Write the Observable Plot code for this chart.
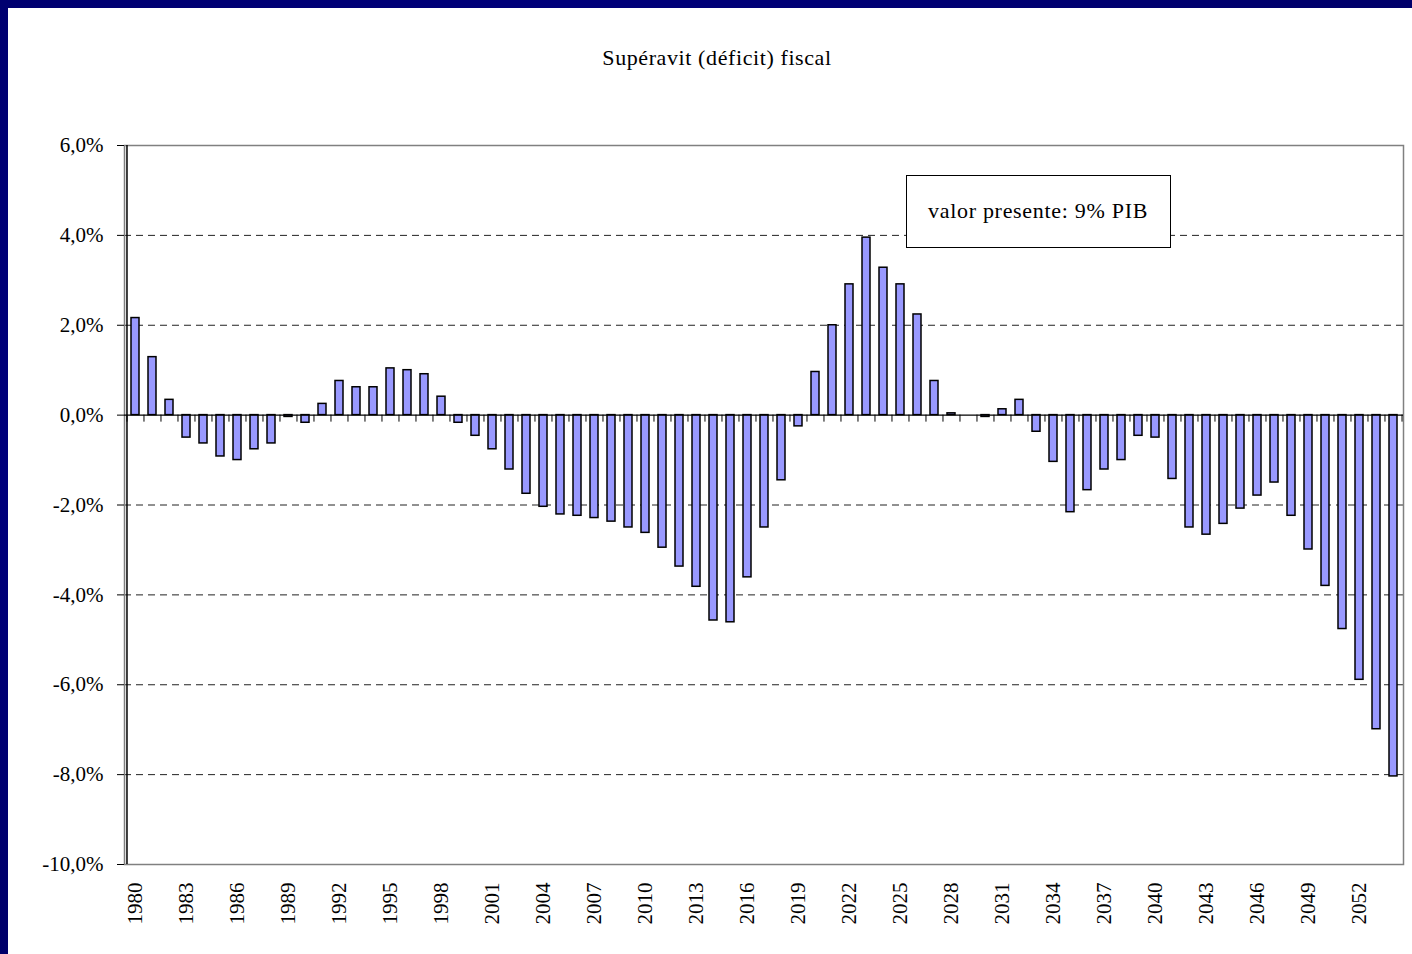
<!DOCTYPE html>
<html>
<head>
<meta charset="utf-8">
<script src="https://cdn.jsdelivr.net/npm/d3@7"></script>
<script src="https://cdn.jsdelivr.net/npm/@observablehq/plot@0.6"></script>
<style>
  html, body { margin: 0; padding: 0; background: #fff; width: 1412px; height: 954px; overflow: hidden; }
  #wrap { position: relative; width: 1412px; height: 954px; font-family: "Liberation Serif", serif; color: #000; }
  .navy-top { position: absolute; left: 0; top: 0; width: 1412px; height: 8px; background: linear-gradient(90deg, #000070, #00007a 40%, #00006a); z-index: 5; }
  .navy-left { position: absolute; left: 0; top: 0; width: 8px; height: 954px; background: linear-gradient(180deg, #000070, #00007c 50%, #00006a); z-index: 5; }
  #title { height: 80px; box-sizing: border-box; padding-top: 47px; padding-left: 22px; text-align: center; font-size: 22px; line-height: 22px; letter-spacing: 0.6px; }
  #note { position: absolute; left: 906px; top: 175px; width: 265px; height: 73px; box-sizing: border-box; border: 1.5px solid #000; background: #fff; font-size: 22px; letter-spacing: 0.7px; display: flex; align-items: center; padding-left: 21px; padding-bottom: 2px; }
  svg { display: block; }
</style>
</head>
<body>
<div id="wrap">
  <div class="navy-top"></div>
  <div class="navy-left"></div>
  <div id="title"></div>
  <div id="chart"></div>
  <div id="note"></div>
</div>
<script>
const titleText = "Supéravit (déficit) fiscal";
const noteText = "valor presente: 9% PIB";

const years = [
  1980,1981,1982,1983,1984,1985,1986,1987,1988,1989,
  1990,1991,1992,1993,1994,1995,1996,1997,1998,1999,
  2000,2001,2002,2003,2004,2005,2006,2007,2008,2009,
  2010,2011,2012,2013,2014,2015,2016,2017,2018,2019,
  2020,2021,2022,2023,2024,2025,2026,2027,2028,2029,
  2030,2031,2032,2033,2034,2035,2036,2037,2038,2039,
  2040,2041,2042,2043,2044,2045,2046,2047,2048,2049,
  2050,2051,2052,2053,2054
];

// Superávit (déficit) fiscal, % del PIB
const balance = [
  2.16, 1.29, 0.34, -0.50, -0.63, -0.92, -1.00, -0.76, -0.63, -0.04,
  -0.17, 0.25, 0.76, 0.62, 0.62, 1.04, 1.00, 0.91, 0.41, -0.17,
  -0.46, -0.76, -1.21, -1.75, -2.04, -2.21, -2.24, -2.29, -2.37, -2.50,
  -2.62, -2.95, -3.37, -3.82, -4.57, -4.61, -3.61, -2.50, -1.45, -0.25,
  0.96, 2.00, 2.91, 3.95, 3.28, 2.91, 2.24, 0.76, 0.04, 0,
  -0.04, 0.13, 0.34, -0.37, -1.04, -2.16, -1.67, -1.21, -1.00, -0.46,
  -0.50, -1.42, -2.50, -2.66, -2.42, -2.08, -1.79, -1.50, -2.24, -2.99,
  -3.80, -4.76, -5.89, -6.99, -8.04
];

const yTicks = [-10, -8, -6, -4, -2, 0, 2, 4, 6];
const gridValues = [-8, -6, -4, -2, 2, 4];
const labelYears = years.filter((y, i) => i % 3 === 0);

const rows = years.map((year, i) => ({year, value: balance[i]}));

document.getElementById("title").textContent = titleText;
document.getElementById("note").textContent = noteText;

const W = 1412, H = 874, ML = 124, MR = 9, MT = 65, MB = 90;
const step = (W - ML - MR) / years.length;

const chart = Plot.plot({
  width: W,
  height: H,
  marginLeft: ML,
  marginRight: MR,
  marginTop: MT,
  marginBottom: MB,
  style: {fontFamily: "Liberation Serif, serif", fontSize: "21px", color: "#000", background: "transparent", overflow: "visible"},
  x: {type: "band", domain: years, paddingInner: 0.54, paddingOuter: 0.27, label: null},
  y: {domain: [-10, 6], label: null},
  marks: [
    Plot.ruleY(gridValues, {stroke: "#222", strokeWidth: 1, strokeDasharray: "7,5"}),
    Plot.frame({stroke: "#808080", strokeWidth: 1.5}),
    Plot.barY(rows.filter(d => d.value !== 0), {x: "year", y: "value", fill: "#9999ff", stroke: "#000", strokeWidth: 1.5}),
    Plot.ruleX(years, {x: d => d, y1: 0, y2: 0, insetBottom: -7, dx: -step / 2, stroke: "#000", strokeWidth: 1}),
    Plot.ruleX([years[years.length - 1]], {x: d => d, y1: 0, y2: 0, insetBottom: -7, dx: step / 2, stroke: "#000", strokeWidth: 1}),
    Plot.ruleY([0], {stroke: "#000", strokeWidth: 1.2}),
    Plot.ruleX([years[0]], {x: d => d, dx: -step / 2, stroke: "#000", strokeWidth: 1.5}),
    Plot.axisY({ticks: yTicks, tickSize: 7, tickPadding: 14, fontSize: 21,
      tickFormat: d => d.toFixed(1).replace(".", ",") + "%"}),
    Plot.axisX({ticks: labelYears, tickSize: 0, tickPadding: 18, tickRotate: -90, fontSize: 21, tickFormat: d => String(d)})
  ]
});

document.getElementById("chart").appendChild(chart);
</script>
</body>
</html>
